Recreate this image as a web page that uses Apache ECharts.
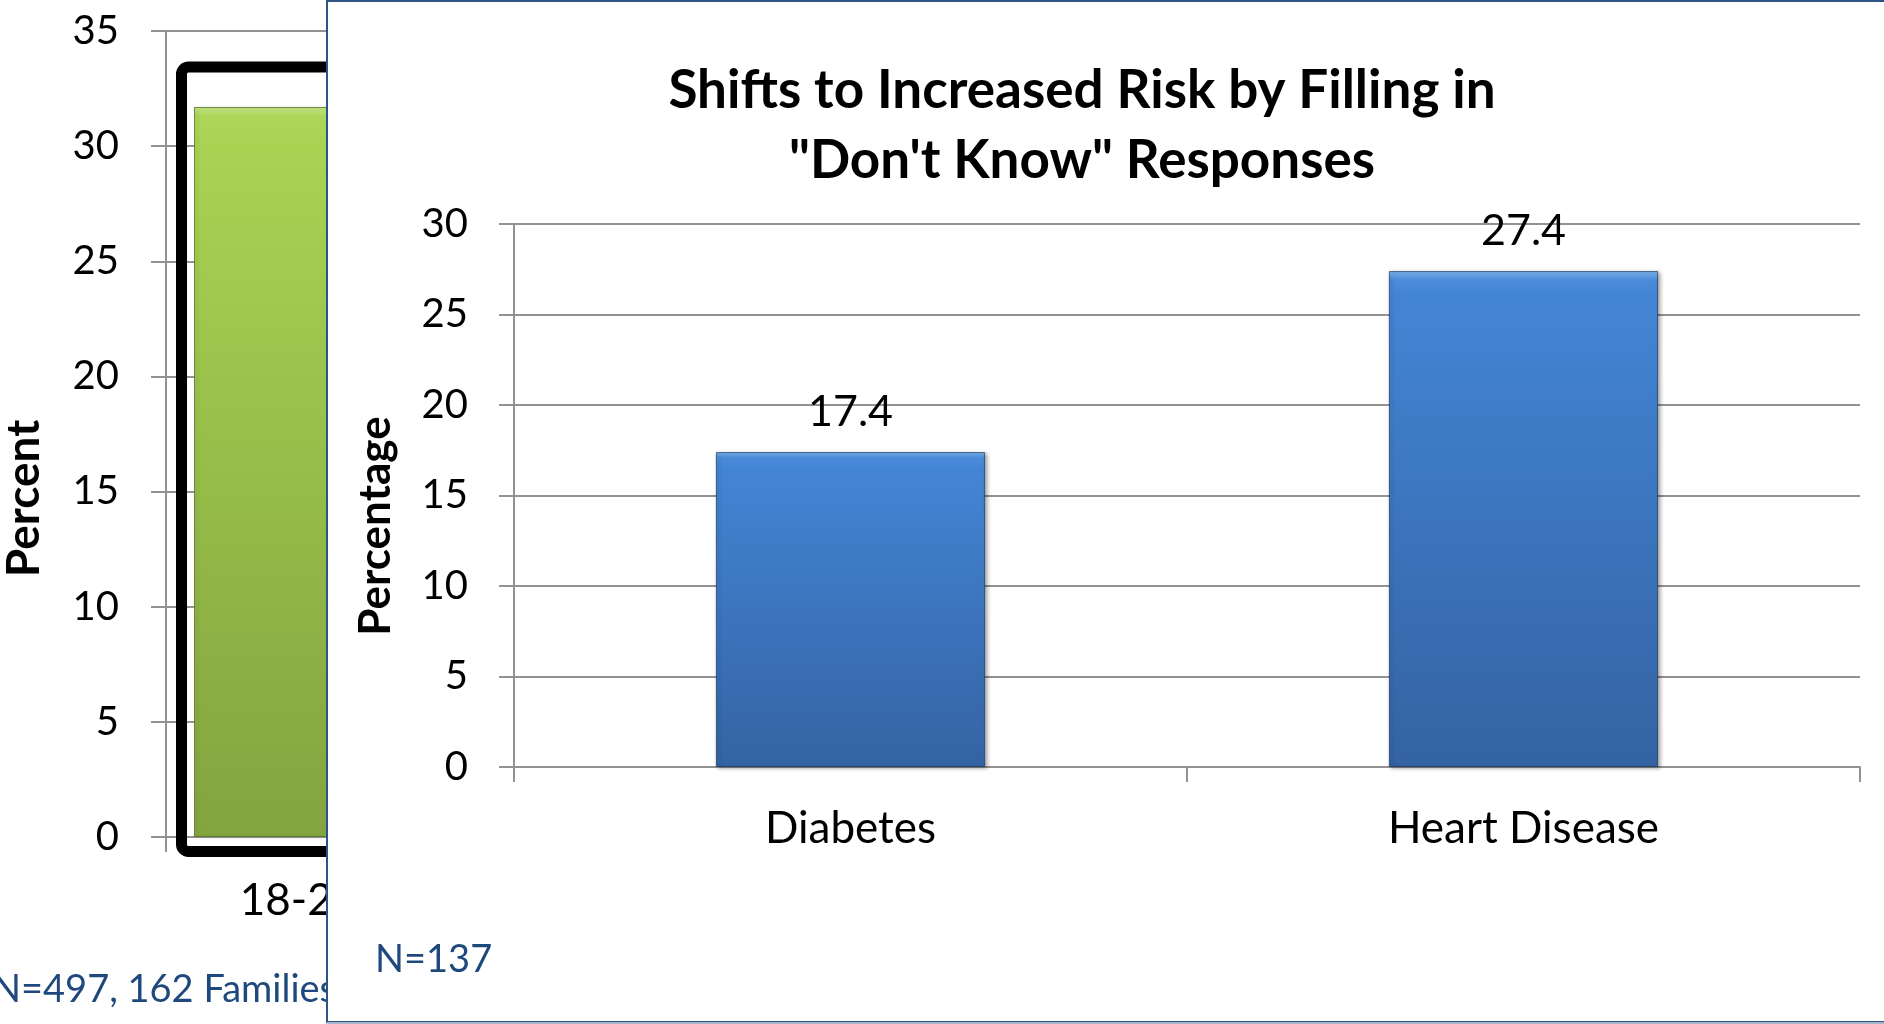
<!DOCTYPE html>
<html>
<head>
<meta charset="utf-8">
<script src="https://cdn.jsdelivr.net/npm/echarts@6/dist/echarts.min.js"></script>
<style>
html,body{margin:0;padding:0;background:#fff;}
#chart{width:1884px;height:1024px;}
</style>
</head>
<body>
<div id="chart"></div>
<script>
// ---- background (partly hidden) chart ----
const bgCategories = ['18-24'];
const bgValues = [31.7];
const bgTicks = [0, 5, 10, 15, 20, 25, 30, 35];
const bgAxisName = 'Percent';
const bgNote = 'N=497, 162 Families';

// ---- foreground chart ----
const fgTitle = 'Shifts to Increased Risk by Filling in\n"Don\'t Know" Responses';
const fgCategories = ['Diabetes', 'Heart Disease'];
const fgValues = [17.4, 27.4];
const fgTicks = [0, 5, 10, 15, 20, 25, 30];
const fgAxisName = 'Percentage';
const fgNote = 'N=137';

const FONT = 'Lato, "Open Sans", sans-serif';
const GRID_GRAY = '#929292';

const chart = echarts.init(document.getElementById('chart'), null, {renderer: 'canvas'});

const blueBar = new echarts.graphic.LinearGradient(0, 0, 0, 1, [
  {offset: 0, color: '#7DB7F0'},
  {offset: 0.018, color: '#4A8BDA'},
  {offset: 0.05, color: '#4385D5'},
  {offset: 1, color: '#3463A3'}
]);
const greenBar = new echarts.graphic.LinearGradient(0, 0, 0, 1, [
  {offset: 0, color: '#C6E88A'},
  {offset: 0.012, color: '#ACD65A'},
  {offset: 0.05, color: '#A8D353'},
  {offset: 1, color: '#83A43F'}
]);

const option = {
  animation: false,
  backgroundColor: '#ffffff',
  title: {
    text: fgTitle,
    left: 1077,
    top: 51,
    textAlign: 'center',
    z: 12,
    textStyle: {fontFamily: FONT, fontWeight: 'bold', fontSize: 53, lineHeight: 70, color: '#000'}
  },
  grid: [
    {left: 166, top: 31, width: 266, bottom: 187, containLabel: false, outerBoundsMode: 'none'},
    {left: 514, top: 224, right: 24, bottom: 257, containLabel: false, outerBoundsMode: 'none'}
  ],
  xAxis: [
    {
      type: 'category', gridIndex: 0, data: bgCategories, z: 1,
      axisLine: {show: true, lineStyle: {color: GRID_GRAY, width: 2}},
      axisTick: {show: true, length: 15, lineStyle: {color: GRID_GRAY, width: 2}},
      axisLabel: {margin: 42, fontFamily: FONT, fontSize: 44, color: '#000', lineHeight: 44}
    },
    {
      type: 'category', gridIndex: 1, data: fgCategories, z: 10,
      axisLine: {show: true, lineStyle: {color: GRID_GRAY, width: 2}},
      axisTick: {show: true, length: 15, lineStyle: {color: GRID_GRAY, width: 2}},
      axisLabel: {margin: 40, fontFamily: FONT, fontSize: 44, color: '#000', lineHeight: 44}
    }
  ],
  yAxis: [
    {
      type: 'value', gridIndex: 0, min: bgTicks[0], max: bgTicks[bgTicks.length - 1], interval: bgTicks[1] - bgTicks[0], z: 1,
      name: bgAxisName, nameLocation: 'middle', nameRotate: 90, nameGap: 119,
      nameTextStyle: {fontFamily: FONT, fontWeight: 'bold', fontSize: 46, color: '#000', padding: [0, 129, 0, 0]},
      axisLine: {show: true, lineStyle: {color: GRID_GRAY, width: 2}},
      axisTick: {show: true, length: 15, lineStyle: {color: GRID_GRAY, width: 2}},
      splitLine: {show: true, lineStyle: {color: GRID_GRAY, width: 2}},
      axisLabel: {margin: 47, fontFamily: FONT, fontSize: 40, color: '#000'}
    },
    {
      type: 'value', gridIndex: 1, min: fgTicks[0], max: fgTicks[fgTicks.length - 1], interval: fgTicks[1] - fgTicks[0], z: 10,
      name: fgAxisName, nameLocation: 'middle', nameRotate: 90, nameGap: 116,
      nameTextStyle: {fontFamily: FONT, fontWeight: 'bold', fontSize: 44, color: '#000', padding: [0, 61, 0, 0]},
      axisLine: {show: true, lineStyle: {color: GRID_GRAY, width: 2}},
      axisTick: {show: true, length: 15, lineStyle: {color: GRID_GRAY, width: 2}},
      splitLine: {show: true, lineStyle: {color: GRID_GRAY, width: 2}},
      axisLabel: {margin: 46, fontFamily: FONT, fontSize: 40, color: '#000'}
    }
  ],
  series: [
    {
      type: 'bar', xAxisIndex: 0, yAxisIndex: 0, data: bgValues, barWidth: 210, z: 2,
      itemStyle: {color: greenBar, borderColor: 'rgba(90,120,40,0.6)', borderWidth: 1,
        shadowBlur: 4, shadowColor: 'rgba(0,0,0,0.3)', shadowOffsetX: 2, shadowOffsetY: 1}
    },
    {
      type: 'bar', xAxisIndex: 1, yAxisIndex: 1, data: fgValues, barWidth: '40%', z: 11,
      itemStyle: {color: blueBar, borderColor: 'rgba(25,55,100,0.7)', borderWidth: 1,
        shadowBlur: 4, shadowColor: 'rgba(0,0,0,0.35)', shadowOffsetX: 2, shadowOffsetY: 1},
      label: {show: true, position: 'top', distance: 18, fontFamily: FONT, fontSize: 43, color: '#000', formatter: '{c}'}
    }
  ]
};

chart.setOption(option);

// highlight box around the first background bar, derived from the bar's own geometry
const topPt = chart.convertToPixel({xAxisIndex: 0, yAxisIndex: 0}, [bgCategories[0], bgValues[0]]);
const zeroPt = chart.convertToPixel({xAxisIndex: 0, yAxisIndex: 0}, [bgCategories[0], 0]);
const halfW = 105;
const boxLeft = topPt[0] - halfW - 12.5;
const boxTop = topPt[1] - 40;
const boxBottom = zeroPt[1] + 14.5;
const boxWidth = 2 * (halfW + 12.5);

chart.setOption({
  graphic: [
    {
      type: 'rect', z: 3,
      shape: {x: boxLeft, y: boxTop, width: boxWidth, height: boxBottom - boxTop, r: 7},
      style: {fill: 'none', stroke: '#000', lineWidth: 11}
    },
    {
      type: 'text', z: 3, x: -8, y: 990,
      style: {text: bgNote, fontFamily: FONT, fontSize: 38, fill: '#1F497D', textVerticalAlign: 'middle', textAlign: 'left'}
    },
    {
      type: 'rect', z: 5,
      shape: {x: 327, y: 1, width: 1600, height: 1021},
      style: {fill: '#ffffff', stroke: '#2E5486', lineWidth: 2}
    },
    {
      type: 'line', z: 6,
      shape: {x1: 327, y1: 1023, x2: 1884, y2: 1023},
      style: {stroke: '#A7B6CB', lineWidth: 2}
    },
    {
      type: 'text', z: 20, x: 375, y: 960,
      style: {text: fgNote, fontFamily: FONT, fontSize: 38, fill: '#1F497D', textVerticalAlign: 'middle', textAlign: 'left'}
    }
  ]
});
</script>
</body>
</html>
